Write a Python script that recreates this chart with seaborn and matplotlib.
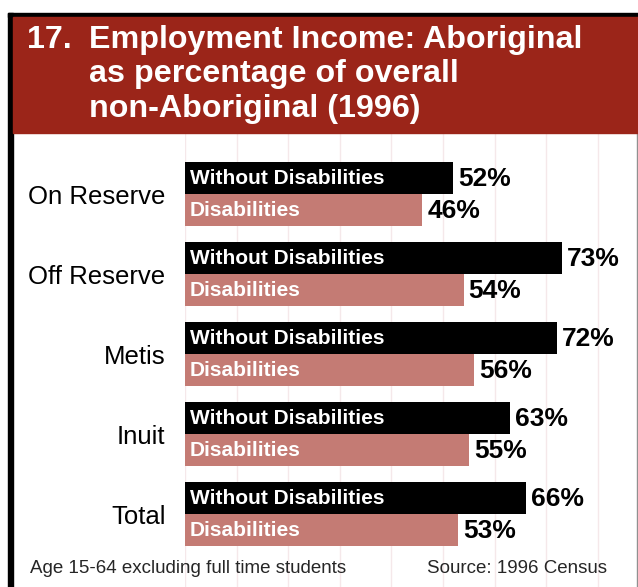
import numpy as np
import pandas as pd
import seaborn as sns
import matplotlib.pyplot as plt
from matplotlib.patches import Rectangle

#Data----------------------------------------------------------------------

regions = ["On Reserve", "Off Reserve", "Metis", "Inuit", "Total"]
without_disab = [52, 73, 72, 63, 66]
with_disab = [46, 54, 56, 55, 53]
series = ["Without Disabilities", "Disabilities"]

title_num = "17."
title_lines = ["Employment Income: Aboriginal", "as percentage of overall", "non-Aboriginal (1996)"]
note_left = "Age 15-64 excluding full time students"
note_right = "Source: 1996 Census"

df = pd.DataFrame({
    "region": regions * 2,
    "pct": without_disab + with_disab,
    "status": [series[0]] * len(regions) + [series[1]] * len(regions),
})

#Figure----------------------------------------------------------------------

W, H = 638, 587
RED = "#9b2519"
PINK = "#c47b74"

sns.set_style("white")
plt.rcParams["font.family"] = ["Liberation Sans", "DejaVu Sans"]

fig = plt.figure(figsize=(W / 100, H / 100), dpi=100)
ax = fig.add_axes([185 / W, 0, (637 - 185) / W, 1 - 133 / H])

sns.barplot(data=df, x="pct", y="region", hue="status", hue_order=series,
            order=regions, orient="h", palette=["black", PINK], width=0.8,
            saturation=1, legend=False, linewidth=0, ax=ax)

ax.set_xlim(0, 87.6)
ax.set_ylim(4.9125, -0.7625)
ax.set_xticks(np.arange(0, 90, 10))
ax.xaxis.grid(True, color="#f5e8ea", lw=1)
ax.set_axisbelow(True)
ax.tick_params(axis="x", length=0, labelbottom=False)
ax.tick_params(axis="y", length=0, pad=14, labelsize=18.5, labelcolor="black")
ax.set_xlabel("")
ax.set_ylabel("")
for s in ["top", "bottom", "left"]:
    ax.spines[s].set_visible(False)
ax.spines["right"].set_color("#909090")
ax.spines["right"].set_linewidth(1)

# labels inside and after the bars
for cont, name in zip(ax.containers, series):
    for bar in cont:
        yc = bar.get_y() + bar.get_height() / 2
        ax.annotate(name, (0, yc), xytext=(5, 0), textcoords="offset pixels",
                    color="white", weight="bold", fontsize=15, va="center")
        ax.annotate(f"{bar.get_width():.0f}%", (bar.get_width(), yc), xytext=(5, -1),
                    textcoords="offset pixels", color="black", weight="bold",
                    fontsize=19, va="center")

# frame and header band
fig.patches.append(Rectangle((8 / W, 0), 5 / W, 1 - 13 / H, transform=fig.transFigure,
                             color="black", zorder=2))
fig.patches.append(Rectangle((8 / W, 1 - 17 / H), (W - 8) / W, 4 / H,
                             transform=fig.transFigure, color="black", zorder=2))
fig.patches.append(Rectangle((13 / W, 1 - 133 / H), (W - 13) / W, (133 - 17) / H,
                             transform=fig.transFigure, color=RED, zorder=2))

fig.text(27 / W, 1 - 48 / H, title_num, color="white", weight="bold",
         fontsize=23.2, va="baseline")
for line, base in zip(title_lines, [48, 82, 117]):
    fig.text(89 / W, 1 - base / H, line, color="white", weight="bold",
             fontsize=23.2, va="baseline")

fig.text(30 / W, 1 - 573 / H, note_left, fontsize=13.5, va="baseline")
fig.text(607 / W, 1 - 573 / H, note_right, fontsize=13.5, va="baseline", ha="right")

fig.savefig("out.png", dpi=100)
